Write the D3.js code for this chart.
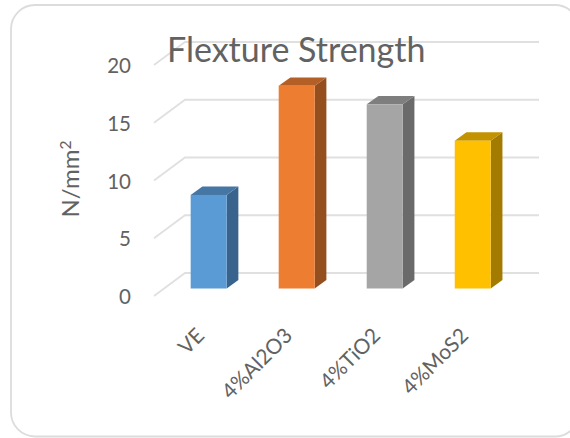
<!DOCTYPE html>
<html><head><meta charset="utf-8">
<script src="https://cdn.jsdelivr.net/npm/d3@7"></script>
<style>html,body{margin:0;padding:0;background:#fff}svg{display:block}text{font-family:Lato,"Open Sans",sans-serif;fill:#626262}</style>
</head><body><svg id="c" width="570" height="438"></svg>
<script>
const categories = ["VE","4%Al2O3","4%TiO2","4%MoS2"];
const values = [8.1,17.55,15.95,12.8];
const frontColors = ["#5b9bd5","#ed7d31","#a5a5a5","#ffc000"];
const topColors = ["#4676a3","#b45f26","#7e7e7e","#c29200"];
const sideColors = ["#37638c","#954f1f","#6a6a6a","#a37b00"];
const yTicks = [0,5,10,15,20];

const svg = d3.select("#c");
svg.append("rect").attr("x",11).attr("y",5).attr("width",568).attr("height",431.5)
  .attr("rx",24).attr("fill","#fff").attr("stroke","#dcdcdc").attr("stroke-width",1.8);

const y = d3.scaleLinear().domain([0,20]).range([296,65]);
const wall = {dx:31,dy:-23};
const x = d3.scaleBand().domain(categories).range([164.7,516.7]).paddingInner(0.591).paddingOuter(0.295);
const barDepth = {dx:11.7,dy:-8.4}, floorY = 288.5, unit = (y(0)-y(1));

const grid = svg.append("g").attr("fill","none").attr("stroke","#e0e0e0").attr("stroke-width",1.8);
yTicks.forEach(t=>{
  const y0=y(t);
  grid.append("path").attr("d",d3.line()([[154,y0],[154+wall.dx,y0+wall.dy],[539,y0+wall.dy]]));
});

const axisG = svg.append("g").attr("text-anchor","end").attr("font-size",20.5);
yTicks.forEach(t=>axisG.append("text").attr("x",131).attr("y",y(t)+8).text(t));

categories.forEach((c,i)=>{
  const x0=x(c), x1=x0+x.bandwidth(), top=floorY-values[i]*unit, d=barDepth;
  svg.append("path").attr("fill",sideColors[i]).attr("d",d3.line()([[x1,floorY],[x1+d.dx,floorY+d.dy],[x1+d.dx,top+d.dy],[x1,top]])+"Z");
  svg.append("path").attr("fill",topColors[i]).attr("d",d3.line()([[x0,top],[x0+d.dx,top+d.dy],[x1+d.dx,top+d.dy],[x1,top]])+"Z");
  svg.append("rect").attr("x",x0).attr("y",top).attr("width",x.bandwidth()).attr("height",floorY-top).attr("fill",frontColors[i]);
  svg.append("text").attr("font-size",21).attr("text-anchor","end")
    .attr("transform",`translate(${x1-21},${337}) rotate(-45)`).text(c);
});

svg.append("text").attr("x",167).attr("y",62).attr("font-size",34).text("Flexture Strength");
svg.append("text").attr("font-size",24).attr("text-anchor","middle")
  .attr("transform","translate(79,179) rotate(-90)")
  .html('N/mm<tspan font-size="15.5" dy="-8">2</tspan>');
</script></body></html>
